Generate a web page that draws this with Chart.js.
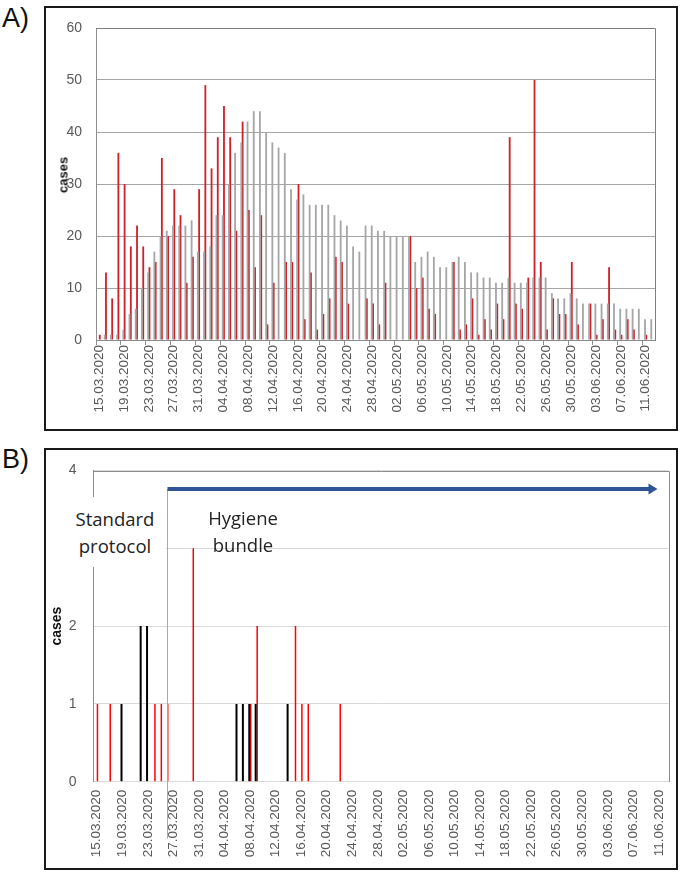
<!DOCTYPE html>
<html>
<head>
<meta charset="utf-8">
<script src="https://cdn.jsdelivr.net/npm/chart.js@4.4.0/dist/chart.umd.min.js"></script>
<style>
    body { margin: 0; background: #fff; width: 697px; height: 873px; position: relative; overflow: hidden; font-family: 'Liberation Sans', Arial, sans-serif; }
    .frame { position: absolute; border: 2px solid #1a1a1a; box-sizing: border-box; }
    .panel-label { position: absolute; font-size: 27px; line-height: 1; color: #111; }
    .wrap { position: absolute; left: 0; }
    .note { position: absolute; font-family: 'Open Sans', sans-serif; font-size: 18.5px; line-height: 27px; color: #222; text-align: center; box-sizing: border-box; }
    .axis-title { position: absolute; font-weight: bold; color: #111; transform: translate(-50%, -50%) rotate(-90deg); white-space: nowrap; }
</style>
</head>
<body>
<div class="frame" style="left:44px;top:6px;width:634px;height:425px"></div>
<div class="frame" style="left:44px;top:448px;width:634px;height:422px"></div>
<div class="panel-label" style="left:2px;top:5px">A)</div>
<div class="panel-label" style="left:2px;top:446px">B)</div>

<div class="wrap" style="top:0"><canvas id="chart-a" width="697" height="440"></canvas></div>
<div class="wrap" style="top:440px"><canvas id="chart-b" width="697" height="433"></canvas></div>

<div class="axis-title" style="left:63px;top:175px;font-size:13px">cases</div>
<div class="note" style="left:64px;top:497px;width:102px;height:70px;padding-top:8px;background:#fff;">Standard<br>protocol</div>
<div class="note" style="left:193px;top:504px;width:100px;">Hygiene<br>bundle</div>

<script>
// one category per day, 15.03.2020 - 12.06.2020
const days = [
    '15.03.2020', '16.03.2020', '17.03.2020', '18.03.2020', '19.03.2020', '20.03.2020', '21.03.2020', '22.03.2020', '23.03.2020', '24.03.2020',
    '25.03.2020', '26.03.2020', '27.03.2020', '28.03.2020', '29.03.2020', '30.03.2020', '31.03.2020', '01.04.2020', '02.04.2020', '03.04.2020',
    '04.04.2020', '05.04.2020', '06.04.2020', '07.04.2020', '08.04.2020', '09.04.2020', '10.04.2020', '11.04.2020', '12.04.2020', '13.04.2020',
    '14.04.2020', '15.04.2020', '16.04.2020', '17.04.2020', '18.04.2020', '19.04.2020', '20.04.2020', '21.04.2020', '22.04.2020', '23.04.2020',
    '24.04.2020', '25.04.2020', '26.04.2020', '27.04.2020', '28.04.2020', '29.04.2020', '30.04.2020', '01.05.2020', '02.05.2020', '03.05.2020',
    '04.05.2020', '05.05.2020', '06.05.2020', '07.05.2020', '08.05.2020', '09.05.2020', '10.05.2020', '11.05.2020', '12.05.2020', '13.05.2020',
    '14.05.2020', '15.05.2020', '16.05.2020', '17.05.2020', '18.05.2020', '19.05.2020', '20.05.2020', '21.05.2020', '22.05.2020', '23.05.2020',
    '24.05.2020', '25.05.2020', '26.05.2020', '27.05.2020', '28.05.2020', '29.05.2020', '30.05.2020', '31.05.2020', '01.06.2020', '02.06.2020',
    '03.06.2020', '04.06.2020', '05.06.2020', '06.06.2020', '07.06.2020', '08.06.2020', '09.06.2020', '10.06.2020', '11.06.2020', '12.06.2020'
];

// A) grey and red daily counts
const greyCases = [
    0, 1, 1, 1, 2, 5, 6, 10, 13, 17,
    20, 21, 22, 22, 22, 23, 17, 17, 18, 24,
    24, 30, 36, 38, 42, 44, 44, 40, 38, 37,
    36, 29, 27, 28, 26, 26, 26, 26, 24, 23,
    22, 18, 17, 22, 22, 21, 21, 20, 20, 20,
    20, 15, 16, 17, 16, 14, 14, 15, 16, 15,
    13, 13, 12, 12, 11, 11, 12, 11, 11, 11,
    12, 12, 12, 9, 8, 8, 9, 8, 7, 7,
    7, 7, 7, 7, 6, 6, 6, 6, 4, 4
];
const redCases = [
    1, 13, 8, 36, 30, 18, 22, 18, 14, 15,
    35, 20, 29, 24, 11, 16, 29, 49, 33, 39,
    45, 39, 21, 42, 25, 14, 24, 3, 11, 0,
    15, 15, 30, 4, 13, 2, 5, 8, 16, 15,
    7, 0, 0, 8, 7, 3, 11, 0, 0, 0,
    20, 10, 12, 6, 5, 0, 0, 15, 2, 3,
    8, 1, 4, 2, 7, 4, 39, 7, 6, 12,
    50, 15, 2, 8, 5, 5, 15, 3, 0, 7,
    1, 4, 14, 2, 1, 4, 2, 0, 1, 0
];

// B) black and red daily counts
const blackCasesB = [
    0, 0, 0, 0, 1, 0, 0, 2, 2, 0,
    0, 0, 0, 0, 0, 0, 0, 0, 0, 0,
    0, 0, 1, 1, 1, 1, 0, 0, 0, 0,
    1, 0, 0, 0, 0, 0, 0, 0, 0, 0,
    0, 0, 0, 0, 0, 0, 0, 0, 0, 0,
    0, 0, 0, 0, 0, 0, 0, 0, 0, 0,
    0, 0, 0, 0, 0, 0, 0, 0, 0, 0,
    0, 0, 0, 0, 0, 0, 0, 0, 0, 0,
    0, 0, 0, 0, 0, 0, 0, 0, 0, 0
];
const redCasesB = [
    1, 0, 1, 0, 0, 0, 0, 0, 0, 1,
    1, 1, 0, 0, 0, 3, 0, 0, 0, 0,
    0, 0, 0, 0, 1, 2, 0, 0, 0, 0,
    0, 2, 1, 1, 0, 0, 0, 0, 1, 0,
    0, 0, 0, 0, 0, 0, 0, 0, 0, 0,
    0, 0, 0, 0, 0, 0, 0, 0, 0, 0,
    0, 0, 0, 0, 0, 0, 0, 0, 0, 0,
    0, 0, 0, 0, 0, 0, 0, 0, 0, 0,
    0, 0, 0, 0, 0, 0, 0, 0, 0, 0
];

const yTicksA = [0, 10, 20, 30, 40, 50, 60];
const yTicksB = [0, 1, 2, 3, 4];
const hygieneStart = '26.03.2020';

const tickGrey = '#595959';

// draws the top and right edges of the plot area
const plotEdges = {
    id: 'plotEdges',
    afterDatasetsDraw(chart, args, opts) {
        const { left, top, right, bottom } = chart.chartArea;
        const ctx = chart.ctx;
        ctx.save();
        ctx.lineWidth = 1;
        ctx.strokeStyle = opts.color;
        ctx.beginPath();
        ctx.moveTo(Math.round(left), Math.round(top) + 0.5);
        ctx.lineTo(Math.round(right) + 0.5, Math.round(top) + 0.5);
        ctx.lineTo(Math.round(right) + 0.5, Math.round(bottom));
        ctx.stroke();
        ctx.restore();
    }
};

// blue start line + arrow for the hygiene bundle period
const bundleArrow = {
    id: 'bundleArrow',
    afterDraw(chart, args, opts) {
        if (!opts.start) return;
        const { top, right, bottom } = chart.chartArea;
        const x = chart.scales.x.getPixelForValue(days.indexOf(opts.start)) + 0.5;
        const y = top + 18.5;
        const ctx = chart.ctx;
        ctx.save();

        ctx.strokeStyle = '#8eaadb';
        ctx.lineWidth = 1;
        ctx.beginPath();
        ctx.moveTo(x, y);
        ctx.lineTo(x, bottom + 57);
        ctx.stroke();

        const tip = right - 11;
        ctx.fillStyle = '#2f5597';
        ctx.fillRect(x, y - 2, tip - 8 - x, 4);
        ctx.beginPath();
        ctx.moveTo(tip - 9, y - 5.5);
        ctx.lineTo(tip, y);
        ctx.lineTo(tip - 9, y + 5.5);
        ctx.closePath();
        ctx.fill();
        ctx.restore();
    }
};

function dateTick(value, index) {
    return index % 4 === 0 ? days[index] : '';
}

function renderPanelA() {
    const canvas = document.querySelector('#chart-a');

    canvas.chartInstance = new Chart(canvas, {
        type: 'bar',
        data: {
            labels: days,
            datasets: [{
                data: greyCases,
                backgroundColor: '#a6a6a6',
                categoryPercentage: 0.42,
                barPercentage: 1.4
            }, {
                data: redCases,
                backgroundColor: '#d0202a',
                categoryPercentage: 0.42,
                barPercentage: 1.4
            }]
        },
        options: {
            responsive: false,
            animation: false,
            layout: { padding: { left: 56, top: 28, right: 42, bottom: 5 } },
            scales: {
                x: {
                    afterFit: scale => { scale.height = 95; },
                    grid: {
                        offset: true,
                        drawOnChartArea: false,
                        tickLength: 5,
                        color: ctx => ctx.index % 4 === 0 ? '#8c8c8c' : 'rgba(0,0,0,0)'
                    },
                    border: { color: '#8c8c8c' },
                    ticks: {
                        autoSkip: false,
                        minRotation: 90,
                        maxRotation: 90,
                        padding: 0,
                        color: tickGrey,
                        font: { family: "'Liberation Sans', Arial, sans-serif", size: 13.5 },
                        callback: dateTick
                    }
                },
                y: {
                    min: yTicksA[0],
                    max: yTicksA[yTicksA.length - 1],
                    afterFit: scale => { scale.width = 40; },
                    afterBuildTicks: scale => { scale.ticks = yTicksA.map(v => ({ value: v })); },
                    grid: { color: '#a6a6a6', drawTicks: false },
                    border: { color: '#8c8c8c' },
                    ticks: {
                        padding: 14,
                        color: tickGrey,
                        font: { family: "'Liberation Sans', Arial, sans-serif", size: 14 }
                    }
                }
            },
            plugins: {
                legend: { display: false },
                tooltip: { enabled: false },
                plotEdges: { color: '#7f7f7f' }
            }
        },
        plugins: [plotEdges]
    });
}

function renderPanelB() {
    const canvas = document.querySelector('#chart-b');

    canvas.chartInstance = new Chart(canvas, {
        type: 'bar',
        data: {
            labels: days,
            datasets: [{
                data: blackCasesB,
                backgroundColor: '#000000',
                categoryPercentage: 0.47,
                barPercentage: 1.33
            }, {
                data: redCasesB,
                backgroundColor: '#ff0000',
                categoryPercentage: 0.47,
                barPercentage: 1.0
            }]
        },
        options: {
            responsive: false,
            animation: false,
            layout: { padding: { left: 48.6, top: 30.5, right: 28.5, bottom: 1.3 } },
            scales: {
                x: {
                    afterFit: scale => { scale.height = 90; },
                    grid: { display: false, drawTicks: false },
                    border: { color: '#d9d9d9' },
                    ticks: {
                        autoSkip: false,
                        minRotation: 90,
                        maxRotation: 90,
                        padding: 8,
                        color: tickGrey,
                        font: { family: "'Liberation Sans', Arial, sans-serif", size: 13.5 },
                        callback: dateTick
                    }
                },
                y: {
                    min: yTicksB[0],
                    max: yTicksB[yTicksB.length - 1],
                    afterFit: scale => { scale.width = 44.9; },
                    afterBuildTicks: scale => { scale.ticks = yTicksB.map(v => ({ value: v })); },
                    grid: { color: '#d9d9d9', drawTicks: false },
                    border: { color: '#8c8c8c' },
                    ticks: {
                        padding: 17,
                        color: tickGrey,
                        font: { family: "'Liberation Sans', Arial, sans-serif", size: 14 }
                    },
                    title: {
                        display: true,
                        text: 'cases',
                        color: '#111',
                        padding: 0,
                        font: { family: "'Liberation Sans', Arial, sans-serif", size: 14, weight: 'bold' }
                    }
                }
            },
            plugins: {
                legend: { display: false },
                tooltip: { enabled: false },
                plotEdges: { color: '#8c8c8c' },
                bundleArrow: { start: hygieneStart }
            }
        },
        plugins: [plotEdges, bundleArrow]
    });
}

renderPanelA();
renderPanelB();
</script>
</body>
</html>
